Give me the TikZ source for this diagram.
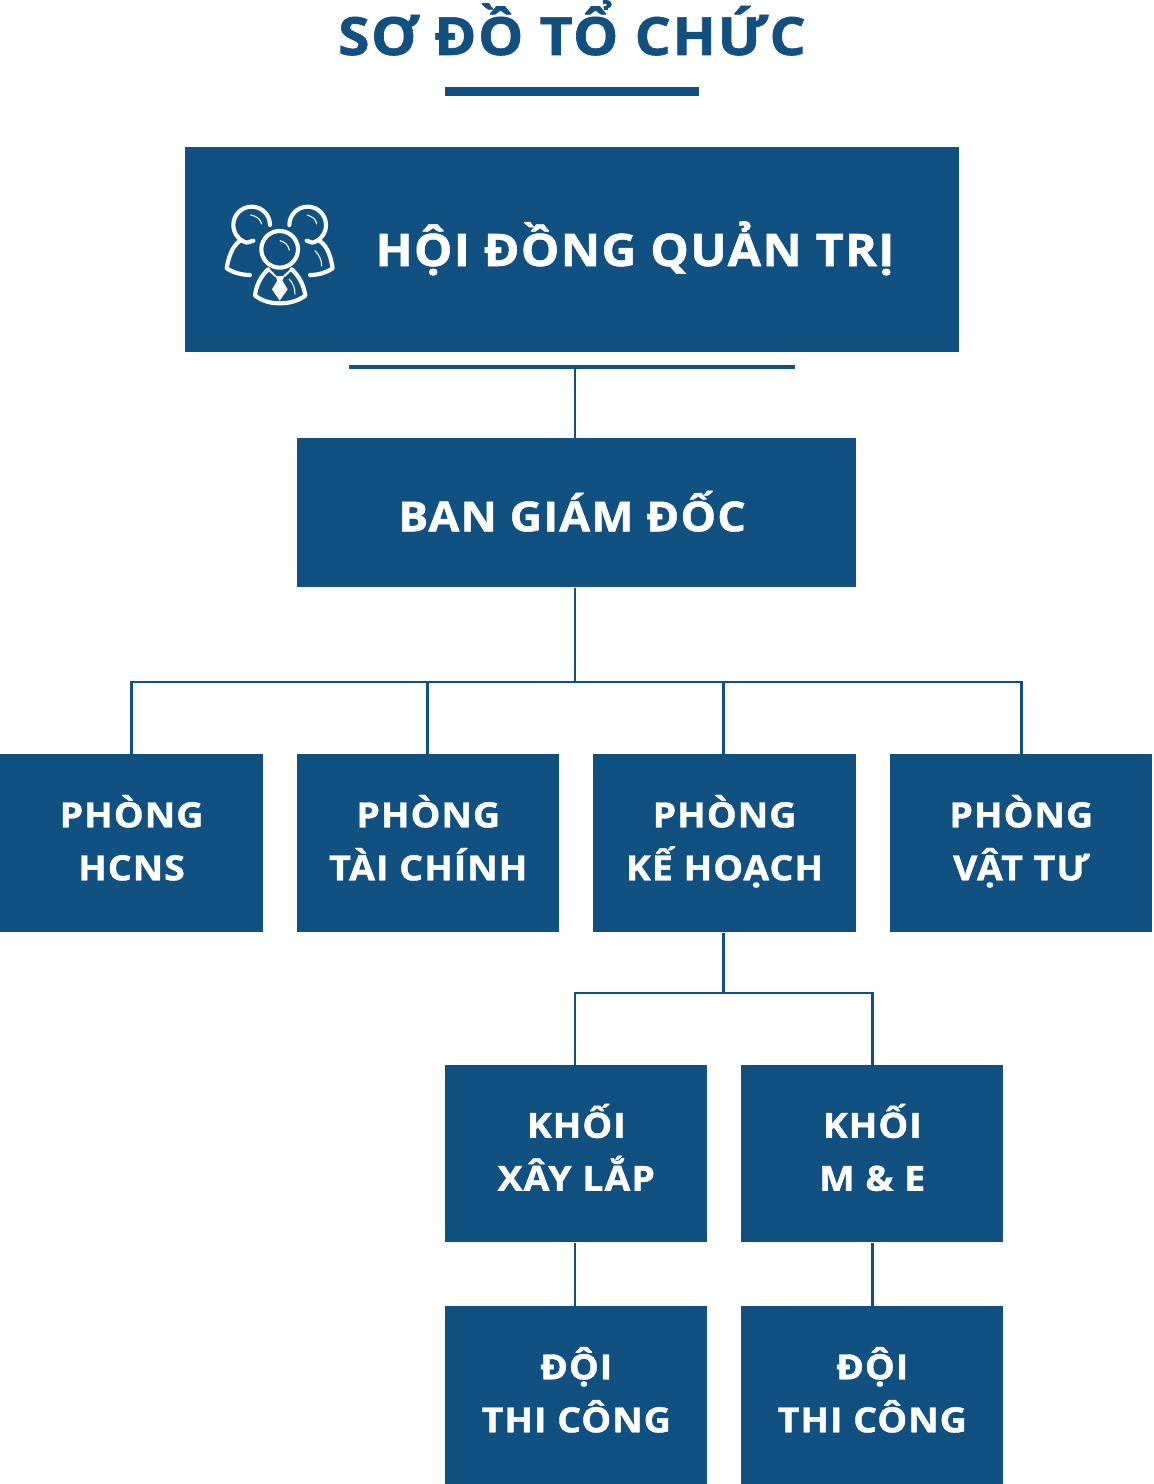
\documentclass[tikz,border=0pt]{standalone}
\usepackage{fontspec}
\setmainfont{Open Sans}
\newfontfamily\heavy{Open Sans Bold}[FakeBold=1.2,FakeStretch=1.08,LetterSpace=3]
\definecolor{navy}{HTML}{115182}
\tikzset{
  x=0.75pt,y=-0.75pt,
  orgbox/.style={fill=navy,draw=none,inner sep=0pt,text=white,align=center,font=\heavy\fontsize{26}{39.75}\selectfont},
  link/.style={draw=navy,line width=1.9pt},
  iconline/.style={draw=white,line width=3.1pt,line cap=round,line join=round},
  iconthin/.style={draw=white,line width=0.8pt,line cap=round},
}
\newcommand{\boxlines}[2]{\smash{#1}\rule{0pt}{15.75pt}\\\smash{#2}}
\newcommand{\orgbox}[6]{\node[orgbox,minimum width=#4*0.75pt,minimum height=#5*0.75pt,anchor=north west] (#1) at (#2,#3) {#6};}
\begin{document}
\begin{tikzpicture}
\useasboundingbox (0,0) rectangle (1153,1484);
\node[text=navy,font=\heavy\fontsize{39.5}{46}\selectfont,anchor=base,inner sep=0pt] (title) at (572,55) {SƠ ĐỒ TỔ CHỨC};
\fill[navy] (445,87) rectangle (699,96);
\orgbox{hdqt}{185}{147}{774}{205}{}
\node[text=white,font=\heavy\fontsize{33.6}{40}\selectfont,anchor=base,inner sep=0pt] (hdqtlabel) at (635,266) {HỘI ĐỒNG QUẢN TRỊ};
\fill[navy] (349,365) rectangle (795,369);
\coordinate (bar) at (575,367);
\orgbox{bgd}{297}{438}{558.5}{149}{\fontsize{31}{36}\selectfont\smash{BAN GIÁM ĐỐC}\rule{0pt}{27.75pt}\hspace*{6.75pt}}
\orgbox{p1}{0}{754}{262.5}{178}{\boxlines{PHÒNG}{HCNS}}
\orgbox{p2}{297}{754}{262}{178}{\boxlines{PHÒNG}{TÀI CHÍNH}}
\orgbox{p3}{593}{754}{262.5}{178}{\boxlines{PHÒNG}{KẾ HOẠCH}}
\orgbox{p4}{890}{754}{262}{178}{\boxlines{PHÒNG}{VẬT TƯ}}
\orgbox{k1}{445}{1065}{262}{177}{\boxlines{KHỐI}{XÂY LẮP}}
\orgbox{k2}{741}{1065}{262}{177}{\boxlines{KHỐI}{M \& E}}
\orgbox{d1}{445}{1306}{262}{178}{\boxlines{ĐỘI}{THI CÔNG}}
\orgbox{d2}{741}{1306}{262}{178}{\boxlines{ĐỘI}{THI CÔNG}}
\coordinate (jr) at (575,682);
\coordinate (jk) at (723.5,993);
\coordinate (jp) at (427.5,682);
\draw[link] (bar) -- (bgd.north -| bar);
\draw[link] (bgd.south -| jr) -- (jr);
\draw[link] (p1.north) |- (jr);
\draw[link] (p2.north -| jp) -- (jp);
\draw[link] (p3.north -| jk) -- (jr -| jk);
\draw[link] (p4.north) |- (jr);
\draw[link] (p3.south -| jk) -- (jk);
\draw[link] (k1.north -| jr) |- (jk);
\draw[link] (k2.north) |- (jk);
\draw[link] (k1.south -| jr) -- (d1.north -| jr);
\draw[link] (k2.south) -- (d2.north);
% icon
\begin{scope}[shift={(200,180)},x=0.25pt,y=-0.25pt]
 \draw[iconline] (210,135) arc[start angle=0,end angle=-255,radius=55] -- (160,182);
 \draw[iconline] (120,182) .. controls (95,200) and (85,235) .. (80,265) .. controls (100,278) and (125,285) .. (150,285);
 \draw[iconline] (268,135) arc[start angle=180,end angle=435,radius=55] -- (320,182);
 \draw[iconline] (358,182) .. controls (385,200) and (393,235) .. (398,265) .. controls (378,278) and (355,285) .. (330,285);
 \draw[iconline] (239,208) circle[radius=55];
 \draw[iconline] (205,268) .. controls (180,290) and (168,320) .. (165,347) .. controls (190,365) and (215,370) .. (239,370) .. controls (265,370) and (290,365) .. (316,347) .. controls (312,320) and (300,290) .. (275,268);
 \draw[iconline,line width=1.5pt] (205,268) -- (226,288);
 \draw[iconline,line width=1.5pt] (275,268) -- (253,288);
 \fill[white] (226,288) -- (253,288) -- (247,302) -- (263,328) -- (239,362) -- (216,328) -- (232,302) -- cycle;
 \draw[iconthin] (152,105) .. controls (170,108) and (182,118) .. (185,132);
 \draw[iconthin] (322,105) .. controls (338,110) and (348,118) .. (350,132);
 \draw[iconthin] (240,182) .. controls (255,186) and (265,195) .. (268,210);
 \draw[iconthin] (345,212) .. controls (358,225) and (365,240) .. (365,258);
 \draw[iconthin] (268,298) .. controls (280,310) and (285,325) .. (285,342);
\end{scope}
\end{tikzpicture}
\end{document}
